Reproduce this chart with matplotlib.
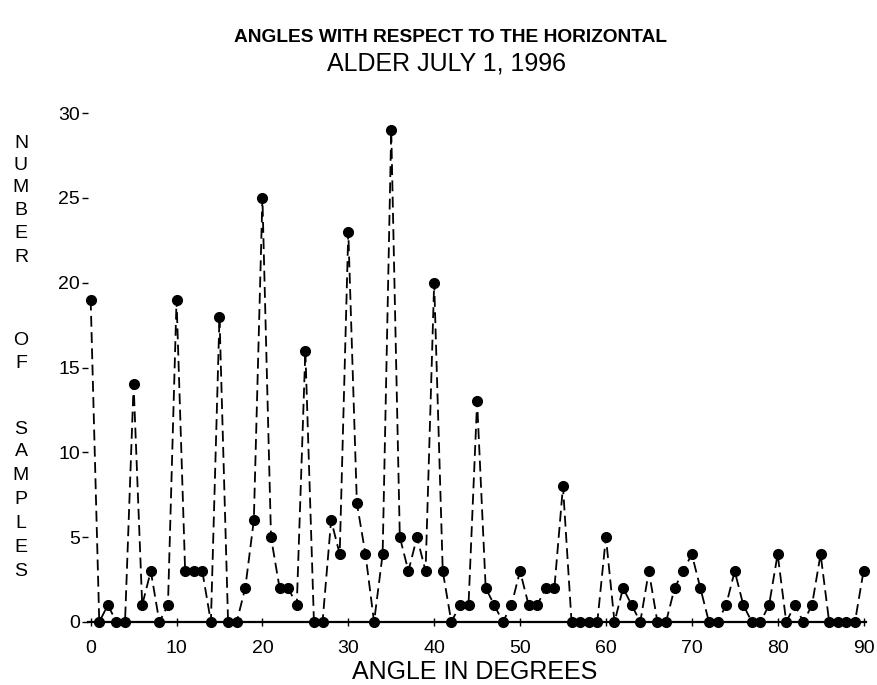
import matplotlib
matplotlib.use("Agg")
import matplotlib.pyplot as plt

angles = list(range(0, 91))
counts = [19, 0, 1, 0, 0, 14, 1, 3, 0, 1,
          19, 3, 3, 3, 0, 18, 0, 0, 2, 6,
          25, 5, 2, 2, 1, 16, 0, 0, 6, 4,
          23, 7, 4, 0, 4, 29, 5, 3, 5, 3,
          20, 3, 0, 1, 1, 13, 2, 1, 0, 1,
          3, 1, 1, 2, 2, 8, 0, 0, 0, 0,
          5, 0, 2, 1, 0, 3, 0, 0, 2, 3,
          4, 2, 0, 0, 1, 3, 1, 0, 0, 1,
          4, 0, 1, 0, 1, 4, 0, 0, 0, 0,
          3]
xticks = [0, 10, 20, 30, 40, 50, 60, 70, 80, 90]
yticks = [0, 5, 10, 15, 20, 25, 30]
title1 = "ANGLES WITH RESPECT TO THE HORIZONTAL"
title2 = "ALDER JULY 1, 1996"
xlabel = "ANGLE IN DEGREES"
ylabel_letters = ["N", "U", "M", "B", "E", "R", "O", "F",
                  "S", "A", "M", "P", "L", "E", "S"]
ylabel_ypix = [143, 165, 188, 210, 233, 257, 340, 364,
               429, 452, 476, 500, 524, 548, 572]

plt.rcParams['font.family'] = ['Liberation Sans', 'DejaVu Sans']

W, H = 878, 685
fig = plt.figure(figsize=(W / 100, H / 100), dpi=100)
ax = fig.add_axes([88.1 / W, 63 / H, 778 / W, 509 / H])

ax.plot(angles, counts, color='black', linestyle=(0, (6, 3)), linewidth=1.3,
        marker='o', markersize=7, markerfacecolor='black',
        markeredgecolor='black', clip_on=False, zorder=3)

ax.set_xlim(-0.3, 90.3)
ax.set_ylim(0, 30)
ax.set_xticks(xticks)
ax.set_yticks(yticks)
ax.set_xticklabels([str(t) for t in xticks], fontsize=14)
ax.set_yticklabels([str(t) for t in yticks], fontsize=14)

for s in ['top', 'right', 'left']:
    ax.spines[s].set_visible(False)
ax.spines['bottom'].set_linewidth(1.6)
ax.tick_params(axis='x', direction='inout', length=6, width=1, pad=10)
ax.tick_params(axis='y', direction='out', length=4, width=1, pad=2)

fig.text(450 / W, 1 - 38 / H, title1, ha='center', va='center',
         fontsize=13.8, fontweight='bold')
fig.text(447 / W, 1 - 63 / H, title2, ha='center', va='center', fontsize=18)
fig.text(475 / W, 1 - 672 / H, xlabel, ha='center', va='center', fontsize=18)
for letter, yp in zip(ylabel_letters, ylabel_ypix):
    fig.text(21 / W, 1 - yp / H, letter, ha='center', va='center', fontsize=14)

fig.savefig("out.png", dpi=100, facecolor='white')
